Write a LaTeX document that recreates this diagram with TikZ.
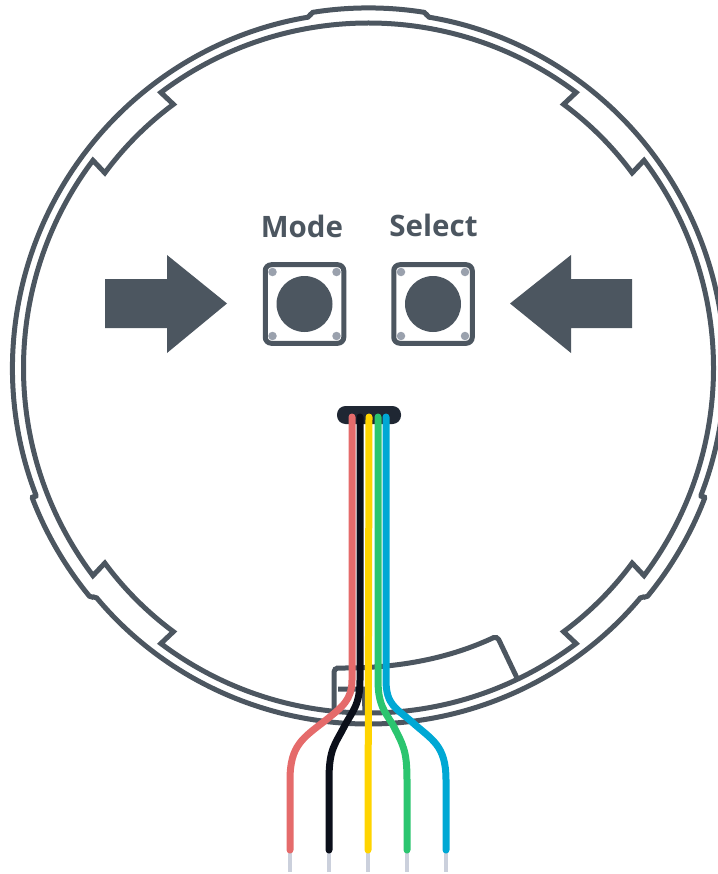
\documentclass[tikz,border=0pt]{standalone}
\usepackage{fontspec}
\setmainfont{Open Sans}
\usetikzlibrary{arrows,positioning}
\definecolor{slate}{HTML}{4C5660}
\definecolor{pin}{HTML}{9AA1AD}
\definecolor{plug}{HTML}{1F2733}
\definecolor{stubgrey}{HTML}{CBD0DC}
\definecolor{wirered}{HTML}{E56B6B}
\definecolor{wireblack}{HTML}{0B0F1A}
\definecolor{wireyellow}{HTML}{FFD400}
\definecolor{wiregreen}{HTML}{2BC56F}
\definecolor{wireblue}{HTML}{00A8D4}
\tikzset{
    %Define style for outlines
    shell/.style={
           draw=slate,
           line width=5pt,
           miter limit=10},
    %Define style for buttons
    btnbox/.style={
           rectangle,
           rounded corners=6pt,
           draw=slate,
           line width=5pt,
           minimum size=78.5pt},
    btncap/.style={
           circle,
           fill=slate,
           minimum size=56pt,
           inner sep=0pt},
    btnpin/.style={
           circle,
           fill=pin,
           minimum size=8.5pt,
           inner sep=0pt},
    btnlabel/.style={
           text=slate,
           font=\bfseries\fontsize{29.5}{31}\selectfont,
           inner sep=0pt,
           text depth=0pt},
    %Define style for big arrows
    pusharrow/.style={
           fill=slate},
    % Define wire styles
    wire/.style={
           line width=7pt,
           line cap=round},
    stub/.style={
           draw=stubgrey,
           line width=3.5pt}
}
\begin{document}
\begin{tikzpicture}[x=1pt,y=-1pt]
\useasboundingbox (0,0) rectangle (717,874);

 %rings
\begin{scope}[shift={(368.5,368)},y=1pt]
\draw[shell] (-37:345) arc[start angle=-37,end angle=37,radius=345pt]
    -- (36.5:328) arc[start angle=36.5,end angle=53.5,radius=328pt]
    -- (53:345) arc[start angle=53,end angle=127,radius=345pt]
    -- (126.5:328) arc[start angle=126.5,end angle=143.5,radius=328pt]
    -- (143:345) arc[start angle=143,end angle=217,radius=345pt]
    -- (216.5:328) arc[start angle=216.5,end angle=233.5,radius=328pt]
    -- (233:345) arc[start angle=233,end angle=307,radius=345pt]
    -- (306.5:328) arc[start angle=306.5,end angle=323.5,radius=328pt]
    -- cycle;
\draw[shell,rounded corners=2pt] (99.5:356) arc[start angle=99.5,end angle=201.2,radius=356pt]
    -- (200.9:360.5) arc[start angle=200.9,end angle=219.6,radius=360.5pt]
    -- (219.9:356) arc[start angle=219.9,end angle=320.1,radius=356pt]
    -- (320.4:360.5) arc[start angle=320.4,end angle=339.1,radius=360.5pt]
    -- (338.8:356) arc[start angle=338.8,end angle=440.5,radius=356pt]
    -- (80.8:360) arc[start angle=80.8,end angle=99.2,radius=360pt]
    -- cycle;
\end{scope}

 %cable clip
\draw[shell,rounded corners=4pt] (334,711) -- (334,668) -- (340,668)
    .. controls (400,668) and (450,658) .. (497,636) -- (517,678);
\draw[shell] (338,689) -- (364,689) -- (365,712);

 %arrows
\fill[pusharrow] (105,279) -- (167,279) -- (167,255) -- (227,303.5)
    -- (167,353) -- (167,328) -- (105,328) -- cycle;
\fill[pusharrow] (632,279) -- (571,279) -- (571,255) -- (510,303.5)
    -- (571,353) -- (571,328) -- (632,328) -- cycle;

 %buttons
\node[btnbox](modebtn) at (304.5,304){};
\node[btnbox](selectbtn) at (433,304){};
\node[btncap] at (modebtn){};
\node[btncap] at (selectbtn){};
\foreach \dx in {-32,32} \foreach \dy in {-32,32} {
  \node[btnpin] at ([xshift=\dx pt,yshift=\dy pt]modebtn.center){};
  \node[btnpin] at ([xshift=\dx pt,yshift=\dy pt]selectbtn.center){};
}
\node[btnlabel, above=25pt of modebtn, xshift=-2.5pt](modelabel){Mode};
\node[btnlabel, above=26pt of selectbtn, xshift=.5pt](selectlabel){Select};

 %plug
\node[fill=plug, rounded corners=8.5pt, minimum width=64pt, minimum height=18pt, inner sep=0pt](plug) at (369,415){};
\coordinate (redtop) at (352,417);
\coordinate (blacktop) at (360,417);
\coordinate (yellowtop) at (369,417);
\coordinate (greentop) at (378,417);
\coordinate (bluetop) at (386,417);
\coordinate (redend) at (290,850);
\coordinate (blackend) at (329,850);
\coordinate (yellowend) at (368,850);
\coordinate (greenend) at (407,850);
\coordinate (blueend) at (446,850);

 %stubs
\foreach \w in {red,black,yellow,green,blue} {
  \draw[stub] (\w end) -- ++(0,22);
}

 %wires
\draw[wire,wireblack] (blacktop) -- (360,680) .. controls (360,705) and (352,712) .. (345,725)
    .. controls (335,745) and (329,748) .. (329,780) -- (blackend);
\draw[wire,wirered] (redtop) -- (352,680) .. controls (352,700) and (342,707) .. (326,720)
    .. controls (303,738) and (290,745) .. (290,780) -- (redend);
\draw[wire,wiregreen] (greentop) -- (378,680) .. controls (378,705) and (385,712) .. (393,725)
    .. controls (403,745) and (407,750) .. (407,780) -- (greenend);
\draw[wire,wireblue] (bluetop) -- (386,680) .. controls (386,705) and (396,708) .. (412,722)
    .. controls (432,740) and (446,745) .. (446,780) -- (blueend);
\draw[wire,wireyellow] (yellowtop) -- (yellowend);
\end{tikzpicture}
\end{document}
